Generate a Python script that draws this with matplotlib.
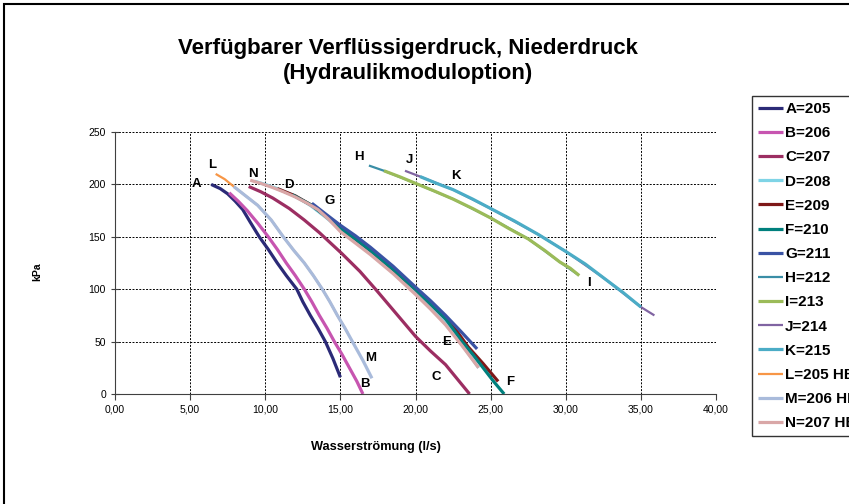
import matplotlib
matplotlib.use('Agg')
import matplotlib.pyplot as plt
from matplotlib.patches import Rectangle
from matplotlib.ticker import FuncFormatter

plt.rcParams['font.family'] = ['Liberation Sans', 'DejaVu Sans']

# Kurven: Wasserströmung (l/s) und Druck (kPa)
a_x = [6.4, 7.0, 7.5, 8.0, 8.5, 9.0, 9.6, 10.2, 10.8, 11.4, 12.1, 12.5, 13.0, 13.5, 14.0, 14.5, 15.0]
a_y = [200, 196, 191, 184, 176, 164, 150, 138, 125, 113, 100, 88, 75, 63, 50, 34, 16]
b_x = [7.6, 8.2, 8.8, 9.5, 10.2, 10.8, 11.4, 12.0, 12.6, 13.1, 13.6, 14.1, 14.6, 15.1, 15.6, 16.1, 16.5]
b_y = [192, 184, 175, 163, 150, 138, 125, 113, 100, 88, 75, 63, 50, 38, 25, 12, 0]
c_x = [8.9, 9.7, 10.5, 11.6, 12.6, 13.6, 15.1, 16.3, 17.4, 18.7, 20.0, 21.0, 22.0, 22.8, 23.6]
c_y = [198, 193, 187, 177, 166, 154, 134, 117, 99, 77, 55, 41, 28, 14, 0]
d_x = [9.3, 10.0, 10.8, 12.0, 13.0, 14.0, 15.0, 16.0, 17.0, 18.5, 20.0, 21.0, 22.0, 23.1, 24.2]
d_y = [203, 200, 196, 189, 180, 169, 157, 146, 135, 117, 97, 83, 68, 47, 25]
e_x = [10.8, 12.0, 13.1, 14.0, 15.0, 16.0, 17.0, 18.5, 20.0, 21.0, 22.0, 22.8, 23.5, 24.5, 25.5]
e_y = [196, 189, 180, 170, 158, 148, 137, 119, 100, 86, 72, 59, 45, 29, 12]
f_x = [11.8, 13.1, 14.0, 15.0, 16.0, 17.0, 18.5, 20.0, 21.0, 22.0, 23.1, 23.8, 24.5, 25.2, 25.9]
f_y = [190, 180, 170, 158, 148, 137, 119, 100, 86, 72, 50, 38, 25, 12, 0]
g_x = [13.1, 14.0, 15.0, 16.0, 17.0, 18.5, 20.0, 21.0, 22.0, 23.0, 24.1]
g_y = [182, 172, 161, 151, 140, 122, 102, 89, 75, 60, 43]
h_x = [16.9, 17.9, 20.0, 22.5, 25.0, 27.5, 29.6, 30.8]
h_y = [218, 213, 201, 186, 168, 148, 126, 114]
i_x = [17.9, 19.0, 20.0, 21.2, 22.5, 23.8, 25.0, 26.2, 27.5, 28.6, 29.6, 30.3, 30.9]
i_y = [213, 207, 201, 194, 186, 177, 168, 158, 148, 137, 126, 120, 113]
j_x = [19.3, 20.3, 22.5, 25.0, 28.2, 30.0, 32.5, 35.0, 35.9]
j_y = [213, 207.5, 195, 177, 152, 136, 111, 83, 75]
k_x = [20.3, 21.4, 22.5, 23.8, 25.0, 26.6, 28.2, 29.1, 30.0, 31.3, 32.5, 33.8, 35.0]
k_y = [207.5, 201, 195, 186, 177, 165, 152, 144, 136, 124, 111, 97, 83]
l_x = [6.7, 7.3, 7.9, 8.7, 9.5, 10.4, 11.2, 11.9, 12.6, 13.2, 13.8, 14.3, 14.8, 15.5]
l_y = [210, 205, 198, 189, 180, 166, 150, 137, 125, 113, 100, 88, 75, 58]
m_x = [7.9, 8.7, 9.5, 10.4, 11.2, 11.9, 12.6, 13.2, 13.8, 14.3, 14.8, 15.3, 15.8, 16.5, 17.1]
m_y = [198, 189, 180, 166, 150, 137, 125, 113, 100, 88, 75, 63, 50, 32, 15]
n_x = [9.0, 9.7, 10.5, 11.2, 12.0, 12.8, 13.5, 14.2, 15.0, 16.0, 17.0, 18.5, 20.0, 21.0, 22.0, 23.1, 24.2]
n_y = [204, 201, 197, 193, 188, 182, 176, 167, 155, 144, 133, 115, 95, 81, 66, 46, 25]

series_names = ['A=205', 'B=206', 'C=207', 'D=208', 'E=209', 'F=210', 'G=211',
                'H=212', 'I=213', 'J=214', 'K=215', 'L=205 HE', 'M=206 HE', 'N=207 HE']
series_data = [(a_x, a_y), (b_x, b_y), (c_x, c_y), (d_x, d_y), (e_x, e_y),
               (f_x, f_y), (g_x, g_y), (h_x, h_y), (i_x, i_y), (j_x, j_y),
               (k_x, k_y), (l_x, l_y), (m_x, m_y), (n_x, n_y)]
colors = ['#2B2A77', '#C755B0', '#9C2E62', '#7FD4E6', '#7E1818', '#00807D', '#3A53A4',
          '#3A8EA6', '#9BBB59', '#8064A2', '#4BACC6', '#F79646', '#A9BBDB', '#D9A7A7']
widths = [2.3, 2.3, 2.3, 2.3, 2.3, 2.3, 2.3, 1.6, 2.3, 1.6, 2.3, 1.6, 2.3, 2.3]

# Buchstaben an den Kurven
label_text = ['A', 'L', 'N', 'D', 'G', 'H', 'J', 'K', 'I', 'M', 'B', 'C', 'E', 'F']
label_x = [5.45, 6.5, 9.2, 11.55, 14.3, 16.2, 19.6, 22.7, 31.55, 17.0, 16.6, 21.4, 22.1, 26.3]
label_y = [200.5, 218.5, 210, 199.5, 184, 226, 223, 208, 106, 34, 9.5, 16, 50, 11.5]

fig = plt.figure(figsize=(8.49, 5.04), dpi=100)
ax = fig.add_axes([115 / 849, 1 - 394 / 504, 601 / 849, 262 / 504])

for (xs, ys), name, col, lw in zip(series_data, series_names, colors, widths):
    ax.plot(xs, ys, color=col, lw=lw, label=name, solid_capstyle='butt', solid_joinstyle='round')

for t, x, y in zip(label_text, label_x, label_y):
    ax.text(x, y, t, fontsize=9.5, fontweight='bold', ha='center', va='center')

ax.set_xlim(0, 40)
ax.set_ylim(0, 250)
ax.set_xticks(range(0, 41, 5))
ax.set_yticks(range(0, 251, 50))
ax.xaxis.set_major_formatter(FuncFormatter(lambda v, p: '{:.2f}'.format(v).replace('.', ',')))
ax.tick_params(axis='both', labelsize=7.5, color='#404040', length=4)
ax.tick_params(axis='y', direction='inout', length=6)
ax.grid(True, color='black', linestyle=(0, (2, 1.5)), lw=0.7)
for s in ['top', 'right']:
    ax.spines[s].set_visible(False)
for s in ['left', 'bottom']:
    ax.spines[s].set_color('#404040')

fig.text(408 / 849, 1 - 61 / 504, 'Verfügbarer Verflüssigerdruck, Niederdruck\n(Hydraulikmoduloption)',
         ha='center', va='center', fontsize=16, fontweight='bold', linespacing=1.3)
fig.text(376 / 849, 1 - 447 / 504, 'Wasserströmung (l/s)', ha='center', va='center',
         fontsize=9.2, fontweight='bold')
fig.text(37 / 849, 1 - 272 / 504, 'kPa', ha='center', va='center', rotation=90,
         fontsize=7.5, fontweight='bold')

leg = fig.legend(loc='upper left', bbox_to_anchor=(752 / 849, 1 - 96 / 504),
                 prop={'weight': 'bold', 'size': 11}, frameon=True, fancybox=False,
                 handlelength=1.65, handletextpad=0.12, labelspacing=0.665, borderaxespad=0,
                 borderpad=0.4)
leg.get_frame().set_edgecolor('black')
leg.get_frame().set_linewidth(1.0)

fig.patches.append(Rectangle((4 / 849, -0.1), 1.2, 1.1 - 4 / 504, transform=fig.transFigure,
                             fill=False, edgecolor='black', lw=1.5))

fig.savefig('out.png', dpi=100)
